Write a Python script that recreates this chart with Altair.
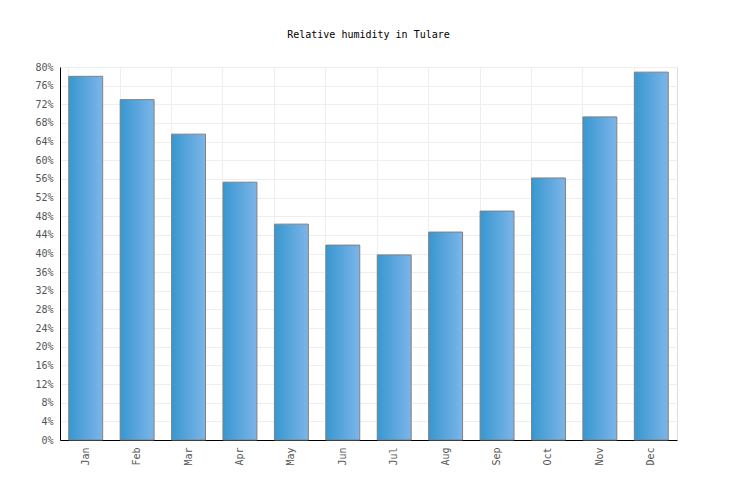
import altair as alt
import pandas as pd

months = ["Jan", "Feb", "Mar", "Apr", "May", "Jun", "Jul", "Aug", "Sep", "Oct", "Nov", "Dec"]
humidity = [78, 73, 65.6, 55.3, 46.3, 41.8, 39.7, 44.6, 49.1, 56.2, 69.3, 78.9]
y_ticks = list(range(0, 81, 4))

df = pd.DataFrame({"month": months, "humidity": humidity})

FONT = "DejaVu Sans Mono"

grad = alt.Gradient(
    gradient="linear",
    stops=[alt.GradientStop(color="#3797d0", offset=0),
           alt.GradientStop(color="#7cb5e9", offset=1)],
    x1=0, x2=1, y1=0, y2=0,
)

chart = alt.Chart(df).mark_bar(color=grad, stroke="#808080", strokeWidth=1).encode(
    x=alt.X("month:N", sort=months, title=None,
            scale=alt.Scale(paddingInner=0.34, paddingOuter=0.17),
            axis=alt.Axis(labelAngle=-90, bandPosition=0, grid=True, gridColor="#eeeeee",
                          domainColor="#000000", domainWidth=1, ticks=False,
                          labelFont=FONT, labelFontSize=10, labelColor="#555555",
                          labelPadding=7)),
    y=alt.Y("humidity:Q", title=None,
            scale=alt.Scale(domain=[0, 80], nice=False),
            axis=alt.Axis(values=y_ticks, labelExpr="datum.value + '%'", grid=True,
                          gridColor="#eeeeee", domainColor="#000000", ticks=False,
                          labelFont=FONT, labelFontSize=10, labelColor="#555555",
                          labelPadding=7)),
).properties(
    width=617, height=373,
    title=alt.TitleParams("Relative humidity in Tulare", font=FONT, fontSize=10,
                          fontWeight="normal", color="#000000", offset=22),
    autosize=alt.AutoSizeParams(type="none"),
    padding={"left": 52, "top": 59, "right": 51, "bottom": 52},
).configure_view(stroke="#eeeeee").configure(background="#ffffff")

chart.save("out.html", embed_options={"renderer": "svg", "actions": False})
